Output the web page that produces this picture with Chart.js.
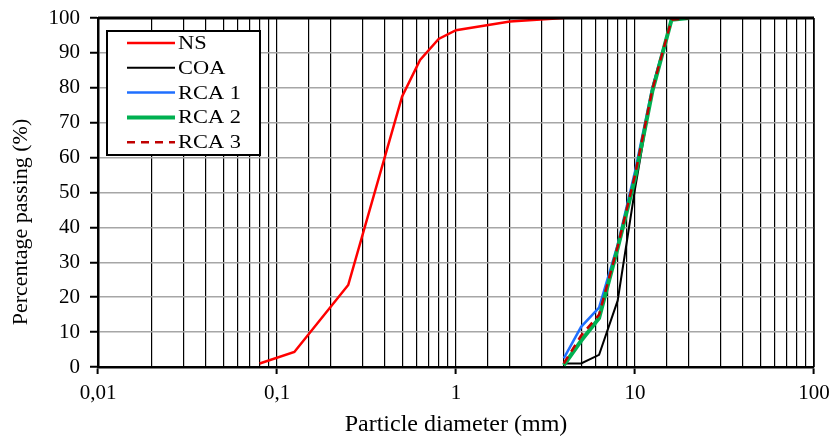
<!DOCTYPE html>
<html>
<head>
<meta charset="utf-8">
<script src="https://cdn.jsdelivr.net/npm/chart.js@4.4.1/dist/chart.umd.min.js"></script>
<style>
  html, body { margin: 0; padding: 0; background: #fff; }
  #wrap { width: 830px; height: 439px; position: relative; }
</style>
</head>
<body>
<div id="wrap"><canvas id="grading"></canvas></div>
<script>
// sieve sizes (mm)
const fineSizes = [0.08, 0.125, 0.25, 0.5, 0.63, 0.8, 1, 2, 4];
const coarseSizes = [4, 5, 6.3, 8, 10, 12.5, 16, 20];

// percentage passing
const ns = [1, 4.3, 23.5, 77.5, 88, 94, 96.5, 99, 100];
const coa = [1, 1, 3.5, 19, 51, 80, 99.5, 100];
const rca1 = [2.5, 11.5, 17, 35, 56, 80, 99.5, 100];
const rca2 = [0.5, 7.5, 14, 34, 54, 79, 99.5, 100];
const rca3 = [1, 9, 15, 34.5, 55, 79.5, 99.5, 100];

const xTickLabels = ["0,01", "0,1", "1", "10", "100"];

const serif = "'Liberation Serif', 'Times New Roman', serif";

function pts(xs, ys) {
  return xs.map((x, i) => ({ x: x, y: ys[i] }));
}

function isDecade(v) {
  const l = Math.log10(v);
  return Math.abs(l - Math.round(l)) < 1e-6;
}

const series = [
  { label: "NS", data: pts(fineSizes, ns), borderColor: "#ff0000", borderWidth: 2.5, order: 4 },
  { label: "COA", data: pts(coarseSizes, coa), borderColor: "#000000", borderWidth: 2, order: 3 },
  { label: "RCA 1", data: pts(coarseSizes, rca1), borderColor: "#1f6fff", borderWidth: 2.5, order: 2 },
  { label: "RCA 2", data: pts(coarseSizes, rca2), borderColor: "#00b050", borderWidth: 4, order: 1 },
  { label: "RCA 3", data: pts(coarseSizes, rca3), borderColor: "#c00000", borderWidth: 2.5, borderDash: [8, 6], order: 0 }
];

// frame, y title and boxed legend inside the plot
const extras = {
  id: "extras",
  afterDatasetsDraw(chart) {
    const ctx = chart.ctx;
    const a = chart.chartArea;
    ctx.save();
    ctx.strokeStyle = "#000";
    ctx.lineWidth = 1.5;
    ctx.beginPath();
    ctx.moveTo(a.right, a.top);
    ctx.lineTo(a.right, a.bottom);
    ctx.stroke();
    ctx.lineWidth = 3;
    ctx.beginPath();
    ctx.moveTo(a.left, a.top);
    ctx.lineTo(a.right, a.top);
    ctx.stroke();

    // legend box
    const bx = 107, by = 31, bw = 153, bh = 124;
    ctx.fillStyle = "#fff";
    ctx.fillRect(bx, by, bw, bh);
    ctx.lineWidth = 2;
    ctx.strokeRect(bx, by, bw, bh);
    ctx.textBaseline = "middle";
    ctx.textAlign = "left";
    series.forEach((s, i) => {
      const yy = by + 12 + i * 24.8;
      ctx.beginPath();
      ctx.strokeStyle = s.borderColor;
      ctx.lineWidth = s.borderWidth;
      ctx.setLineDash(s.borderDash || []);
      ctx.moveTo(127, yy);
      ctx.lineTo(175, yy);
      ctx.stroke();
      ctx.setLineDash([]);
      // text in the source is a bit wider than tall
      ctx.save();
      ctx.translate(178, yy + 1);
      ctx.scale(1.18, 1);
      ctx.font = "19px " + serif;
      ctx.fillStyle = "#000";
      ctx.fillText(s.label, 0, 0);
      ctx.restore();
    });

    // y axis title
    ctx.translate(21, 222);
    ctx.rotate(-Math.PI / 2);
    ctx.textAlign = "center";
    ctx.textBaseline = "middle";
    ctx.font = "22px " + serif;
    ctx.fillStyle = "#000";
    ctx.fillText("Percentage passing (%)", 0, 0);
    ctx.restore();
  }
};

new Chart(document.getElementById("grading"), {
  type: "scatter",
  data: {
    datasets: series.map(s => ({
      label: s.label,
      data: s.data,
      borderColor: s.borderColor,
      backgroundColor: s.borderColor,
      borderWidth: s.borderWidth,
      borderDash: s.borderDash || [],
      order: s.order,
      showLine: true,
      pointRadius: 0,
      tension: 0
    }))
  },
  options: {
    responsive: true,
    maintainAspectRatio: false,
    animation: false,
    layout: { padding: { left: 0, right: 16, top: 18, bottom: 0 } },
    plugins: {
      legend: { display: false },
      tooltip: { enabled: false }
    },
    scales: {
      x: {
        type: "logarithmic",
        min: 0.01,
        max: 100,
        border: { color: "#000", width: 2.5 },
        grid: {
          color: "#000",
          lineWidth: 1.2,
          tickLength: 7,
          tickColor: c => (c.tick && isDecade(c.tick.value) ? "#000" : "rgba(0,0,0,0)"),
          tickWidth: 2
        },
        ticks: {
          autoSkip: false,
          maxRotation: 0,
          color: "#000",
          padding: 7,
          font: { family: serif, size: 21 },
          callback: v => {
            if (!isDecade(v)) return "";
            return xTickLabels[Math.round(Math.log10(v)) + 2];
          }
        },
        title: {
          display: true,
          text: "Particle diameter (mm)",
          color: "#000",
          font: { family: serif, size: 24 },
          padding: { top: 0, bottom: 0 }
        },
        afterFit: s => {
          s.height = 72;
          s.paddingLeft = 0;
          s.paddingRight = 0;
        }
      },
      y: {
        min: 0,
        max: 100,
        border: { color: "#000", width: 2.5 },
        grid: {
          color: "#a6a6a6",
          lineWidth: 1.5,
          tickLength: 8,
          tickColor: "#000",
          tickWidth: 2
        },
        ticks: {
          stepSize: 10,
          color: "#000",
          padding: 10,
          font: { family: serif, size: 21 }
        },
        afterFit: s => {
          s.width = 98;
          s.paddingTop = 0;
          s.paddingBottom = 0;
        }
      }
    }
  },
  plugins: [extras]
});
</script>
</body>
</html>
